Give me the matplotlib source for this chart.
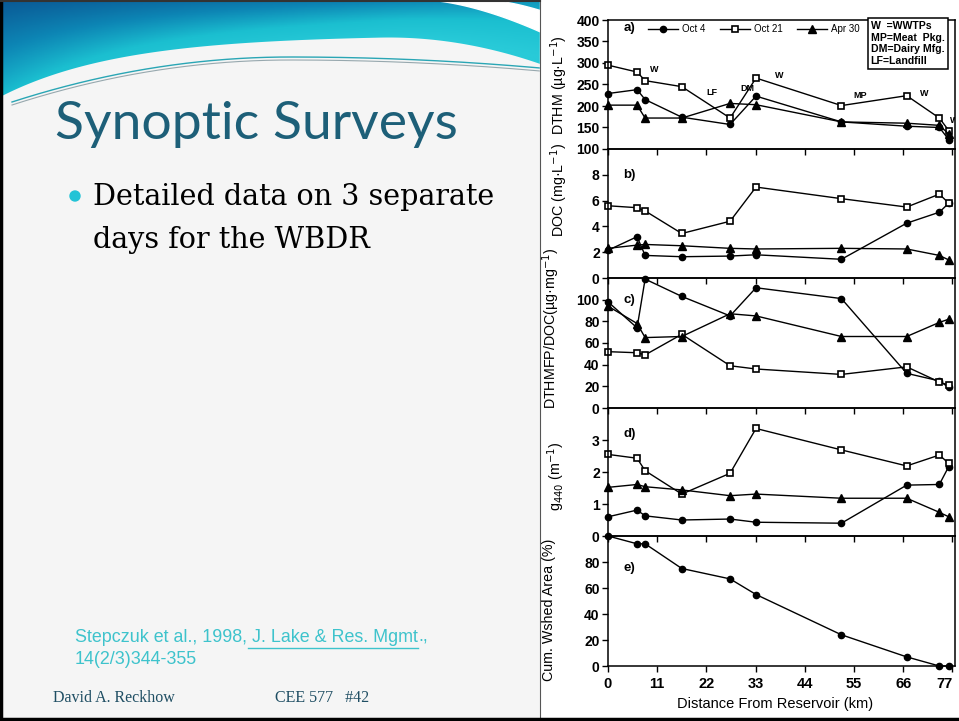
import numpy as np
import matplotlib.pyplot as plt
from matplotlib.patches import Polygon, Rectangle, Circle
from matplotlib.colors import LinearSegmentedColormap

# distance of each sampling station from the reservoir (km)
dist = [0, 6.5, 8.3, 16.5, 27.3, 33.1, 52.2, 66.8, 74.1, 76.2]
dates = ["Oct 4", "Oct 21", "Apr 30"]

# a) DTHM (ug/L)
dthm_oct4 = [229, 238, 215, 174, 157, 223, 163, 153, 150, 122]
dthm_oct21 = [295, 279, 259, 245, 172, 265, 201, 224, 172, 143]
dthm_apr30 = [202, 202, 172, 172, 206, 203, 163, 160, 155, 135]

# b) DOC (mg/L)
doc_oct4 = [2.15, 3.2, 1.75, 1.65, 1.7, 1.8, 1.45, 4.25, 5.1, 5.8]
doc_oct21 = [5.6, 5.45, 5.2, 3.45, 4.4, 7.05, 6.15, 5.5, 6.5, 5.8]
doc_apr30 = [2.3, 2.55, 2.6, 2.5, 2.3, 2.25, 2.3, 2.25, 1.75, 1.4]

# c) DTHMFP/DOC (ug/mg)
ratio_oct4 = [98, 74, 119, 103, 85, 111, 101, 32, 25, 19]
ratio_oct21 = [52, 51, 49, 68, 39, 36, 31, 38, 24, 21]
ratio_apr30 = [94, 78, 65, 66, 87, 85, 66, 66, 79, 82]

# d) g440 (1/m)
g440_oct4 = [0.6, 0.81, 0.63, 0.5, 0.53, 0.43, 0.4, 1.59, 1.61, 2.17]
g440_oct21 = [2.55, 2.43, 2.04, 1.31, 1.96, 3.36, 2.69, 2.19, 2.53, 2.27]
g440_apr30 = [1.52, 1.61, 1.54, 1.44, 1.26, 1.31, 1.18, 1.18, 0.74, 0.6]

# e) cumulative watershed area (%)
wshed = [100, 94, 94, 75, 67, 55, 24, 7, 0, 0]

panels = [
    ([dthm_oct4, dthm_oct21, dthm_apr30], (100, 400), np.arange(100, 401, 50), "a)"),
    ([doc_oct4, doc_oct21, doc_apr30], (0, 10), np.arange(0, 9, 2), "b)"),
    ([ratio_oct4, ratio_oct21, ratio_apr30], (0, 120), np.arange(0, 101, 20), "c)"),
    ([g440_oct4, g440_oct21, g440_apr30], (0, 4), np.arange(0, 4, 1), "d)"),
    ([wshed], (0, 100), np.arange(0, 81, 20), "e)"),
]
ylabels = ["DTHM (µg·L$^{-1}$)", "DOC (mg·L$^{-1}$)", "DTHMFP/DOC(µg·mg$^{-1}$)",
           "g$_{440}$ (m$^{-1}$)", "Cum. Wshed Area (%)"]
ylabel_pos = [(559, 85), (559, 190), (551, 328), (556, 476), (549, 610)]
letter_y = [0.935, 0.8, 0.83, 0.8, 0.75]

styles = [dict(marker="o", ms=4.5, mfc="black"),
          dict(marker="s", ms=5, mfc="white", mew=1.2),
          dict(marker="^", ms=5.2, mfc="black")]

W, H = 959, 721
fig = plt.figure(figsize=(W / 100, H / 100), dpi=100)
plt.rcParams["font.family"] = "Liberation Sans"

# slide background, drawn in pixel coordinates
bg = fig.add_axes([0, 0, 1, 1])
bg.set_xlim(0, W)
bg.set_ylim(H, 0)
bg.axis("off")
bg.add_patch(Rectangle((0, 0), 540, H, color="#f5f5f5"))

# blue swoosh at the top left
xs = np.linspace(0, 545, 200)
edge = 35 + 62 * np.exp(-xs / 120) + np.where(xs > 380, 30 * ((xs - 380) / 165) ** 2, 0)
swoosh = Polygon(np.vstack([np.c_[xs, edge], [[545, 0], [0, 0]]]), closed=True,
                 facecolor="none", edgecolor="none")
bg.add_patch(swoosh)
gx, gy = np.meshgrid(np.linspace(0, 545, 220), np.linspace(0, 100, 60))
gedge = 35 + 62 * np.exp(-gx / 120) + np.where(gx > 380, 30 * ((gx - 380) / 165) ** 2, 0)
shade = np.clip(0.65 * gy / gedge + 0.45 * gx / 545, 0, 1)
cmap = LinearSegmentedColormap.from_list("sw", ["#0a5a96", "#0d86b5", "#1bbfd0", "#28cad8"])
grad = bg.imshow(shade, cmap=cmap, aspect="auto", extent=[0, 545, 100, 0],
                 vmin=0, vmax=1, zorder=1)
grad.set_clip_path(swoosh)
xw = np.linspace(425, 545, 40)
xu = np.linspace(485, 545, 40)
white_band = np.vstack([np.c_[xw, 34 * ((xw - 425) / 120) ** 1.6],
                        np.c_[xu, 12 * ((xu - 485) / 60) ** 1.6][::-1]])
bg.add_patch(Polygon(white_band, closed=True, color="white", zorder=2))
xl = np.linspace(12, 545, 200)
yl = np.where(xl < 290, 57 + 45 * ((xl - 290) / 278) ** 2, 57 + 11 * ((xl - 290) / 250) ** 2)
bg.plot(xl, yl, color="#2aa6b5", lw=1.0, zorder=2)
bg.plot(xl, yl + 3, color="#97a8ae", lw=0.8, zorder=2)

# chart area and slide border
bg.add_patch(Rectangle((540, 0), W - 540, H, color="white", zorder=3))
bg.plot([540, 540], [0, H], color="#555555", lw=0.8, zorder=4)
bg.plot([1, 1], [0, H], color="black", lw=2.5, zorder=4)
bg.plot([0, W], [H - 2, H - 2], color="black", lw=2.5, zorder=4)
bg.plot([0, 540], [1, 1], color="#333333", lw=1.5, zorder=4)

# slide text
bg.text(55, 124, "Synoptic Surveys", fontsize=38.5, color="#1d5f78",
        family="Lato", va="center", zorder=5)
bg.add_patch(Circle((75, 196), 5, color="#22c3d6", zorder=5))
for k, line in enumerate(["Detailed data on 3 separate", "days for the WBDR"]):
    bg.text(93, 197 + 43 * k, line, fontsize=20.6, family="DejaVu Serif",
            va="center", zorder=5)
cite_color = "#3ec3cc"
cite_size = 12.9
t1 = bg.text(75, 637, "Stepczuk et al., 1998,", fontsize=cite_size, color=cite_color, va="center", zorder=5)
bg.text(75, 660, "14(2/3)344-355", fontsize=cite_size, color=cite_color, va="center", zorder=5)
fig.canvas.draw()
inv = bg.transData.inverted()
x1 = inv.transform(t1.get_window_extent().get_points())[1, 0]
t2 = bg.text(x1, 637, " J. Lake & Res. Mgmt", fontsize=cite_size, color=cite_color, va="center", zorder=5)
fig.canvas.draw()
x2 = inv.transform(t2.get_window_extent().get_points())[1, 0]
bg.plot([x1 + 1, x2], [648, 648], color=cite_color, lw=1, zorder=5)
bg.text(x2, 637, ".,", fontsize=cite_size, color=cite_color, va="center", zorder=5)
bg.text(53, 698, "David A. Reckhow", fontsize=11.5, family="Liberation Serif",
        color="#1f4e63", va="center", zorder=5)
bg.text(275, 698, "CEE 577   #42", fontsize=11.5, family="Liberation Serif",
        color="#1f4e63", va="center", zorder=5)

# the five stacked panels
tops = [20, 149, 278, 408, 536]
bots = [149, 278, 408, 536, 666]
left, right = 608, 955
axes = []
for i, (series, ylim, yticks, letter) in enumerate(panels):
    ax = fig.add_axes([left / W, 1 - bots[i] / H, (right - left) / W, (bots[i] - tops[i]) / H])
    ax.set_facecolor("none")
    for j, vals in enumerate(series):
        st = styles[j] if i < 4 else styles[0]
        ax.plot(dist, vals, color="black", lw=1.0, mec="black",
                label=dates[j], clip_on=False, **st)
    ax.set_xlim(0, 77.6)
    ax.set_ylim(*ylim)
    ax.set_yticks(yticks)
    ax.set_xticks(np.arange(0, 78, 11))
    ax.tick_params(axis="x", direction="out", length=4, width=1, labelbottom=(i == 4),
                   labelsize=10.5, pad=4)
    ax.tick_params(axis="y", direction="out", length=4, width=1, labelsize=10, pad=2)
    for lab in ax.get_xticklabels() + ax.get_yticklabels():
        lab.set_fontweight("bold")
    for sp in ax.spines.values():
        sp.set_linewidth(1.1)
    ax.text(0.045, letter_y[i], letter, transform=ax.transAxes, fontsize=9.5,
            fontweight="bold", va="center")
    bg.text(ylabel_pos[i][0], ylabel_pos[i][1], ylabels[i], rotation=90, fontsize=10.3,
            ha="center", va="center", zorder=5)
    axes.append(ax)

axe = axes[4]
axe.get_xticklabels()[-1].set_ha("right")
axe.set_xlabel("Distance From Reservoir (km)", fontsize=10.5)
axe.xaxis.set_label_coords(0.481, -0.24)

# legend and site annotations for panel a
axa = axes[0]
axa.legend(loc="center left", bbox_to_anchor=(0.115, 0.93), ncol=3, frameon=False,
           fontsize=7, handlelength=3.1, columnspacing=1.5, handletextpad=0.4,
           borderpad=0, borderaxespad=0)
axa.text(0.757, 0.99, "W  =WWTPs\nMP=Meat  Pkg.\nDM=Dairy Mfg.\nLF=Landfill",
         transform=axa.transAxes, fontsize=7.6, fontweight="bold", va="top", ha="left",
         linespacing=1.2,
         bbox=dict(boxstyle="square,pad=0.3", fc="white", ec="black", lw=1.1))
sites = [("W", 9.4, 284), ("LF", 22.1, 232), ("DM", 29.5, 240), ("W", 37.3, 271),
         ("MP", 54.8, 225), ("W", 69.8, 228), ("W", 76.5, 166)]
for name, sx, sy in sites:
    axa.text(sx, sy, name, fontsize=6.5, fontweight="bold", va="center", clip_on=True)

plt.savefig("out.png", dpi=100)
